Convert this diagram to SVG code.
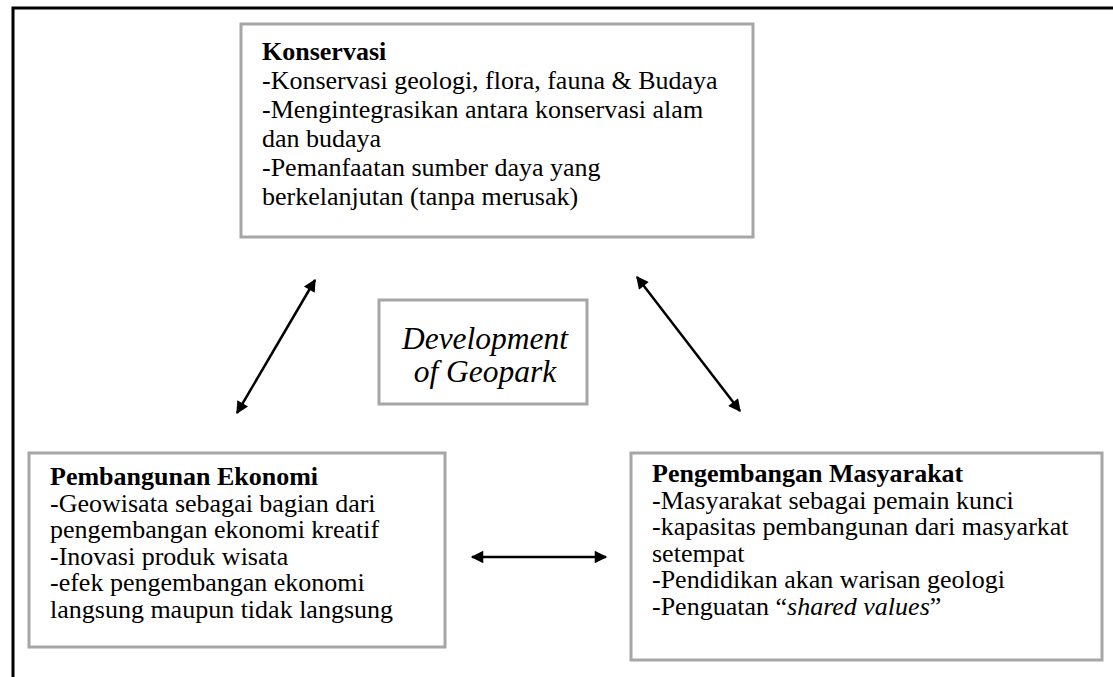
<svg xmlns="http://www.w3.org/2000/svg" width="1113" height="677" viewBox="0 0 1113 677">
<defs>
<style>
.box{fill:#fff;stroke:#a6a6a6;stroke-width:3}
.frame{fill:none;stroke:#000;stroke-width:3}
.t{font-family:"Liberation Serif","Times New Roman",serif;font-size:26px;fill:#000}
.b{font-weight:bold}
.i{font-style:italic}
.c{font-family:"Liberation Serif","Times New Roman",serif;font-size:31.5px;font-style:italic;fill:#000;text-anchor:middle}
.arr{stroke:#000;stroke-width:2.5;fill:none;marker-start:url(#ah);marker-end:url(#ah)}
</style>
<marker id="ah" viewBox="0 0 10 10" refX="9" refY="5" markerWidth="6" markerHeight="5" orient="auto-start-reverse" markerUnits="strokeWidth">
<path d="M0,0 L10,5 L0,10 z" fill="#000"/>
</marker>
</defs>
<rect width="1113" height="677" fill="#fff"/>
<path class="frame" d="M13,677 V8 H1113"/>
<g id="konservasi">
<rect class="box" x="241" y="24" width="512" height="213"/>
<text class="t"><tspan class="b" x="262" y="60">Konservasi</tspan><tspan x="262" y="89">-Konservasi geologi, flora, fauna &amp; Budaya</tspan><tspan x="262" y="118">-Mengintegrasikan antara konservasi alam</tspan><tspan x="262" y="147">dan budaya</tspan><tspan x="262" y="176">-Pemanfaatan sumber daya yang</tspan><tspan x="262" y="205">berkelanjutan (tanpa merusak)</tspan></text>
</g>
<g id="development">
<rect class="box" x="379" y="300" width="208" height="104"/>
<text class="c"><tspan x="485" y="349">Development</tspan><tspan x="485" y="382">of Geopark</tspan></text>
</g>
<g id="ekonomi">
<rect class="box" x="29" y="453" width="416" height="194"/>
<text class="t"><tspan class="b" x="50" y="485">Pembangunan Ekonomi</tspan><tspan x="50" y="511.5">-Geowisata sebagai bagian dari</tspan><tspan x="50" y="538">pengembangan ekonomi kreatif</tspan><tspan x="50" y="564.5">-Inovasi produk wisata</tspan><tspan x="50" y="591">-efek pengembangan ekonomi</tspan><tspan x="50" y="617.5">langsung maupun tidak langsung</tspan></text>
</g>
<g id="masyarakat">
<rect class="box" x="631" y="453" width="471" height="207"/>
<text class="t"><tspan class="b" x="652" y="482">Pengembangan Masyarakat</tspan><tspan x="652" y="508.5">-Masyarakat sebagai pemain kunci</tspan><tspan x="652" y="535">-kapasitas pembangunan dari masyarkat</tspan><tspan x="652" y="561.5">setempat</tspan><tspan x="652" y="588">-Pendidikan akan warisan geologi</tspan><tspan x="652" y="614.5">-Penguatan “<tspan class="i">shared values</tspan>”</tspan></text>
</g>
<g id="connectors">
<line class="arr" x1="237" y1="413" x2="315" y2="280"/>
<line class="arr" x1="637" y1="277" x2="740" y2="411"/>
<line class="arr" x1="472" y1="557" x2="606" y2="557"/>
</g>
</svg>
